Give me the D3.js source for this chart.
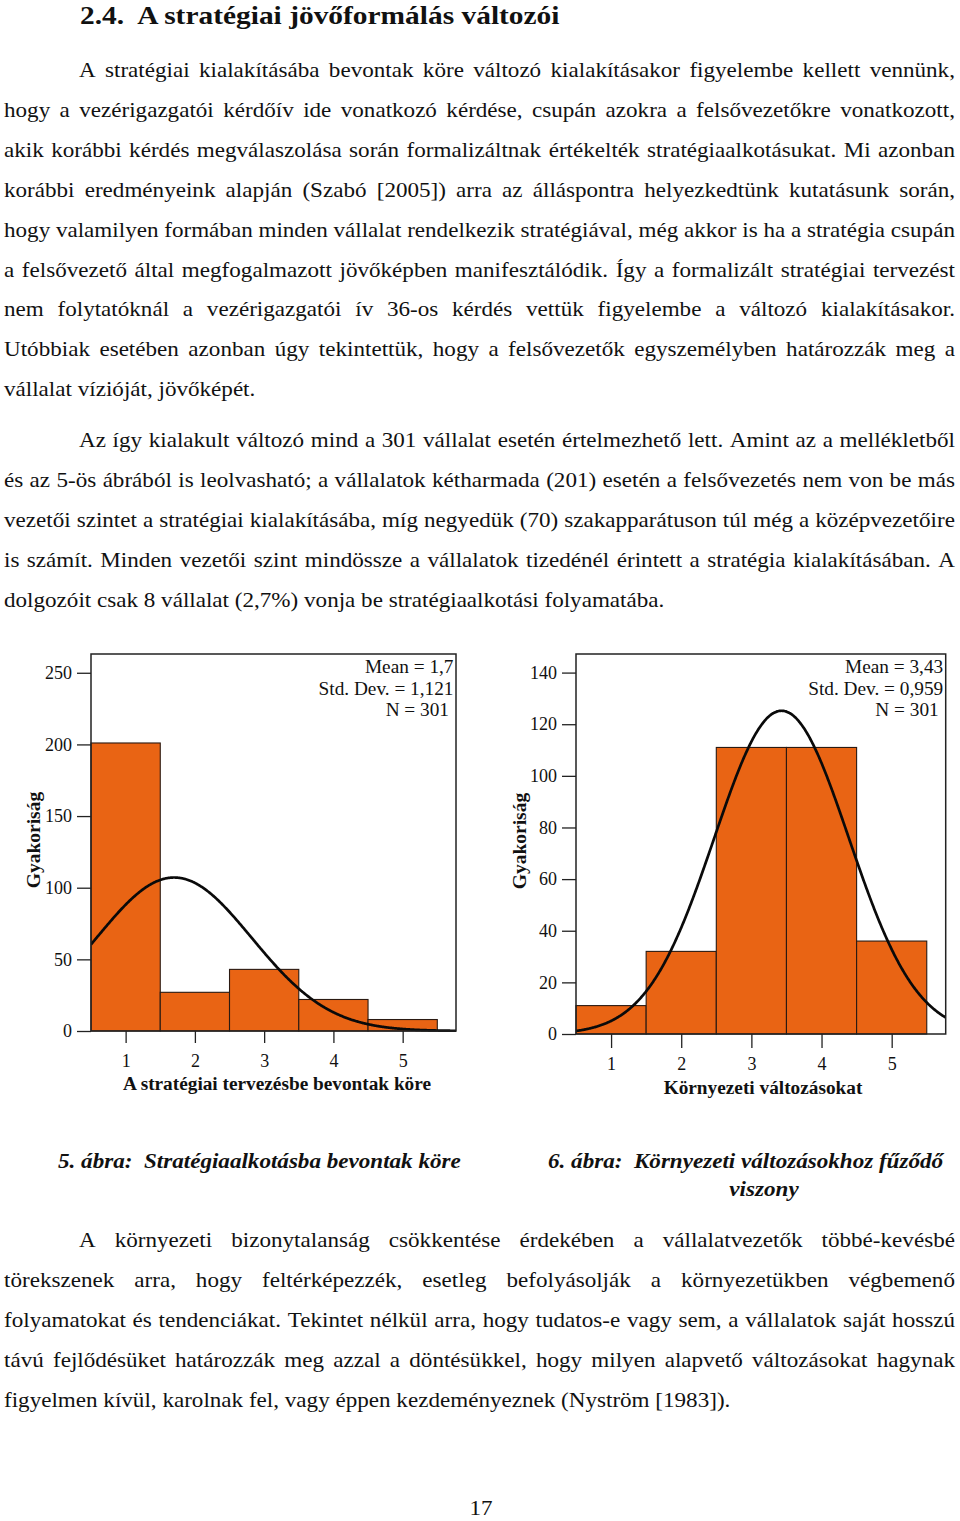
<!DOCTYPE html>
<html><head><meta charset="utf-8">
<script src="https://cdn.jsdelivr.net/npm/d3@7"></script>
<style>
html,body{margin:0;padding:0;background:#fff;}
svg{display:block;}
text{font-family:"Liberation Serif","Times New Roman",Times,serif;fill:#111;}
</style></head><body>
<svg id="page" width="960" height="1521"></svg>
<script>
// ---------------- data ----------------
const categories = [1, 2, 3, 4, 5];
const xTickLabels = ["1", "2", "3", "4", "5"];
const fig5Counts = [201, 27, 43, 22, 8];
const fig6Counts = [11, 32, 111, 111, 36];
const fig5YTicks = [0, 50, 100, 150, 200, 250];
const fig6YTicks = [0, 20, 40, 60, 80, 100, 120, 140];
const fig5Mean = 1.7, fig5SD = 1.121, fig5N = 301;
const fig6Mean = 3.43, fig6SD = 0.959, fig6N = 301;
const fig5StatLabels = ["Mean = 1,7", "Std. Dev. = 1,121", "N = 301"];
const fig6StatLabels = ["Mean = 3,43", "Std. Dev. = 0,959", "N = 301"];
const fig5XTitle = "A stratégiai tervezésbe bevontak köre";
const fig6XTitle = "Környezeti változásokat";
const yTitle = "Gyakoriság";

const headingText = "2.4.\u00a0 A stratégiai jövőformálás változói";
const para1Lines = [
  "A stratégiai kialakításába bevontak köre változó kialakításakor figyelembe kellett vennünk,",
  "hogy a vezérigazgatói kérdőív ide vonatkozó kérdése, csupán azokra a felsővezetőkre vonatkozott,",
  "akik korábbi kérdés megválaszolása során formalizáltnak értékelték stratégiaalkotásukat. Mi azonban",
  "korábbi eredményeink alapján (Szabó [2005]) arra az álláspontra helyezkedtünk kutatásunk során,",
  "hogy valamilyen formában minden vállalat rendelkezik stratégiával, még akkor is ha a stratégia csupán",
  "a felsővezető által megfogalmazott jövőképben manifesztálódik. Így a formalizált stratégiai tervezést",
  "nem folytatóknál a vezérigazgatói ív 36-os kérdés vettük figyelembe a változó kialakításakor.",
  "Utóbbiak esetében azonban úgy tekintettük, hogy a felsővezetők egyszemélyben határozzák meg a",
  "vállalat vízióját, jövőképét."
];
const para2Lines = [
  "Az így kialakult változó mind a 301 vállalat esetén értelmezhető lett. Amint az a mellékletből",
  "és az 5-ös ábrából is leolvasható; a vállalatok kétharmada (201) esetén a felsővezetés nem von be más",
  "vezetői szintet a stratégiai kialakításába, míg negyedük (70) szakapparátuson túl még a középvezetőire",
  "is számít. Minden vezetői szint mindössze a vállalatok tizedénél érintett a stratégia kialakításában. A",
  "dolgozóit csak 8 vállalat (2,7%) vonja be stratégiaalkotási folyamatába."
];
const para3Lines = [
  "A környezeti bizonytalanság csökkentése érdekében a vállalatvezetők többé-kevésbé",
  "törekszenek arra, hogy feltérképezzék, esetleg befolyásolják a környezetükben végbemenő",
  "folyamatokat és tendenciákat. Tekintet nélkül arra, hogy tudatos-e vagy sem, a vállalatok saját hosszú",
  "távú fejlődésüket határozzák meg azzal a döntésükkel, hogy milyen alapvető változásokat hagynak",
  "figyelmen kívül, karolnak fel, vagy éppen kezdeményeznek (Nyström [1983])."
];
const caption5 = "5. ábra:\u00a0 Stratégiaalkotásba bevontak köre";
const caption6a = "6. ábra:\u00a0 Környezeti változásokhoz fűződő";
const caption6b = "viszony";
const pageNumber = "17";

// ---------------- page ----------------
const svg = d3.select("#page");
const BAR_FILL = "#E96414";
const SX = 1.155;   // horizontal stretch of the page typography

function stretchedText(x, y, str, size, anchor, sx) {
  return svg.append("text")
    .attr("transform", `translate(${x},${y}) scale(${sx || SX},1)`)
    .attr("text-anchor", anchor || "start")
    .style("font-size", size + "px").text(str);
}

// heading
stretchedText(80, 24, headingText, 26, "start", 1.132).style("font-weight", "bold");

// justified paragraphs
function paragraph(lines, firstBaseline, step) {
  const left = 4, right = 955, indent = 79;
  lines.forEach((line, i) => {
    const y = firstBaseline + i * step;
    const x0 = i === 0 ? indent : left;
    const last = i === lines.length - 1;
    if (last) { stretchedText(x0, y, line, 20); return; }
    const words = line.split(" ");
    const nodes = words.map(w => svg.append("text").style("font-size", "20px").text(w));
    const widths = nodes.map(n => n.node().getComputedTextLength() * SX);
    const gap = (right - x0 - d3.sum(widths)) / (words.length - 1);
    let x = x0;
    nodes.forEach((n, k) => {
      n.attr("transform", `translate(${x},${y}) scale(${SX},1)`);
      x += widths[k] + gap;
    });
  });
}
paragraph(para1Lines, 77, 39.9);
paragraph(para2Lines, 447, 39.9);
paragraph(para3Lines, 1247, 39.9);

// captions
const capStyle = t => t.style("font-weight", "bold").style("font-style", "italic");
capStyle(stretchedText(58, 1168, caption5, 20));
capStyle(stretchedText(548, 1168, caption6a, 20));
capStyle(stretchedText(764, 1196, caption6b, 20, "middle"));

stretchedText(481, 1515, pageNumber, 20, "middle");

// ---------------- histograms ----------------
function histogram(cfg) {
  const g = svg.append("g");
  const x = d3.scaleLinear().domain([0.5, 5.77]).range([cfg.left, cfg.right]);
  const y = d3.scaleLinear().domain([0, cfg.yTop]).range([cfg.bottom, cfg.top]);
  const clipId = "clip" + cfg.id;
  g.append("clipPath").attr("id", clipId).append("rect")
    .attr("x", cfg.left).attr("y", cfg.top - 2)
    .attr("width", cfg.right - cfg.left).attr("height", cfg.bottom - cfg.top + 3);

  // bars
  g.selectAll("rect.bar").data(categories.map((c, i) => ({c, v: cfg.counts[i]})))
    .enter().append("rect").attr("class", "bar")
    .attr("x", d => x(d.c - 0.5)).attr("width", d => x(d.c + 0.5) - x(d.c - 0.5))
    .attr("y", d => y(d.v)).attr("height", d => y(0) - y(d.v))
    .attr("fill", BAR_FILL).attr("stroke", "#2a1a12").attr("stroke-width", 1.1);

  // fitted normal curve (from Mean, Std. Dev., N shown on the chart)
  const pts = d3.range(0.5, 5.7701, 0.01).map(v => [v,
    cfg.n / (cfg.sd * Math.sqrt(2 * Math.PI)) * Math.exp(-0.5 * Math.pow((v - cfg.mean) / cfg.sd, 2))]);
  g.append("path").datum(pts).attr("clip-path", `url(#${clipId})`)
    .attr("d", d3.line().x(d => x(d[0])).y(d => y(d[1])).curve(d3.curveBasis))
    .attr("fill", "none").attr("stroke", "#0a0a0a").attr("stroke-width", 2.7);

  // frame
  g.append("rect").attr("x", cfg.left).attr("y", cfg.top)
    .attr("width", cfg.right - cfg.left).attr("height", cfg.bottom - cfg.top)
    .attr("fill", "none").attr("stroke", "#222").attr("stroke-width", 1.5);

  // y axis
  const ya = g.append("g").attr("transform", `translate(${cfg.left},0)`)
    .call(d3.axisLeft(y).tickValues(cfg.yTicks).tickSize(14).tickPadding(5).tickFormat(d3.format("d")));
  ya.select(".domain").remove();
  ya.selectAll("line").attr("stroke", "#222").attr("stroke-width", 1.3);
  ya.selectAll("text").style("font-size", "18px").attr("fill", "#111");

  // x axis
  const xa = g.append("g").attr("transform", `translate(0,${cfg.bottom})`)
    .call(d3.axisBottom(x).tickValues(categories).tickSize(cfg.xTickLen).tickPadding(cfg.xPad)
      .tickFormat((d, i) => xTickLabels[i]));
  xa.select(".domain").remove();
  xa.selectAll("line").attr("stroke", "#222").attr("stroke-width", 1.3);
  xa.selectAll("text").style("font-size", "18px").attr("fill", "#111");

  // stats
  cfg.statLabels.forEach((s, i) => {
    g.append("text").attr("x", cfg.right - (i === 2 ? 7 : 2.5)).attr("y", 673 + i * 21.7)
      .attr("text-anchor", "end").style("font-size", "19.3px").text(s);
  });

  // titles
  g.append("text").attr("transform", `translate(${cfg.yTitleX},${cfg.yTitleY}) rotate(-90)`)
    .attr("text-anchor", "middle").style("font-size", "19.5px").style("font-weight", "bold").text(yTitle);
  g.append("text").attr("x", cfg.xTitleX).attr("y", cfg.xTitleY)
    .attr("text-anchor", "middle").style("font-size", "19.3px").style("font-weight", "bold").text(cfg.xTitle);
}

histogram({
  id: 5, left: 91, right: 456, top: 654, bottom: 1031, yTop: 263.1,
  counts: fig5Counts, yTicks: fig5YTicks, mean: fig5Mean, sd: fig5SD, n: fig5N,
  statLabels: fig5StatLabels, xTitle: fig5XTitle, xTickLen: 12, xPad: 11,
  yTitleX: 40, yTitleY: 840, xTitleX: 277, xTitleY: 1090
});
histogram({
  id: 6, left: 576, right: 945.7, top: 654, bottom: 1034, yTop: 147.2,
  counts: fig6Counts, yTicks: fig6YTicks, mean: fig6Mean, sd: fig6SD, n: fig6N,
  statLabels: fig6StatLabels, xTitle: fig6XTitle, xTickLen: 14, xPad: 9,
  yTitleX: 526, yTitleY: 841, xTitleX: 763, xTitleY: 1094
});
</script>
</body></html>
